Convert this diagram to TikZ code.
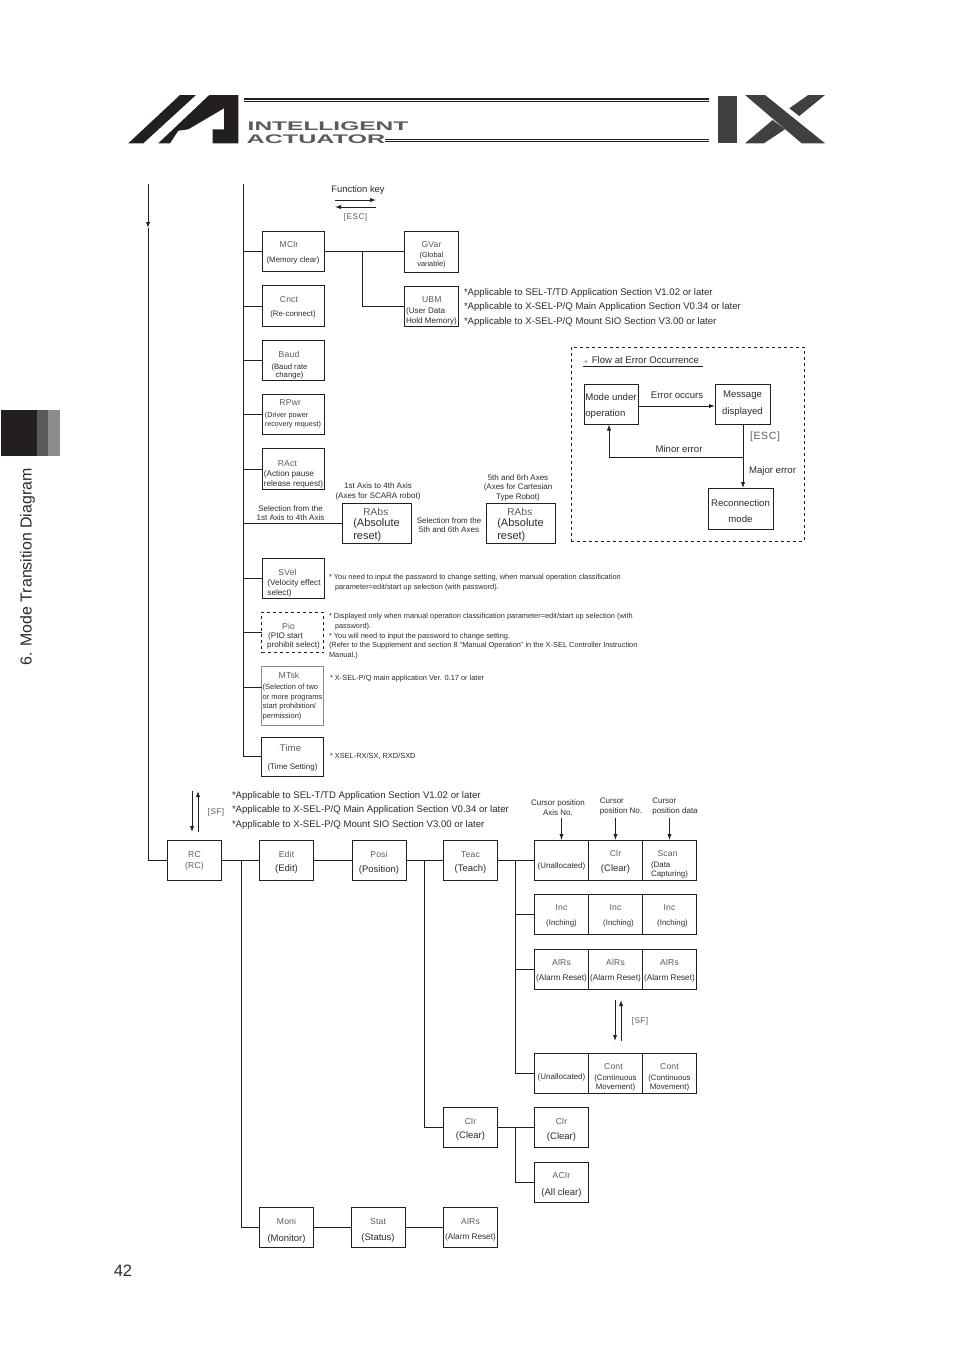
\documentclass[tikz,border=0pt]{standalone}
\usepackage{fontspec}
\setmainfont{Liberation Sans}
\newfontfamily\keyfont[LetterSpace=6]{Liberation Sans}
\newfontfamily\namefont[LetterSpace=2]{Liberation Sans}
\usetikzlibrary{matrix,arrows,arrows.meta}
\definecolor{inkdark}{HTML}{2B2B2B}
\definecolor{inkgray}{HTML}{5A5A5A}
\definecolor{logodark}{HTML}{231F20}
\newcommand{\sz}[1]{\fontsize{#1}{#1}\selectfont}
\newcommand{\nm}[1]{{\color{inkgray}\sz{8.6}\namefont #1}}
\newcommand{\ky}[1]{{\color{inkgray}\sz{8.2}\keyfont #1}}
\newcommand{\dn}[1]{\rule{0pt}{#1pt}}
\newcommand{\up}[1]{\rule[-#1pt]{0pt}{#1pt}}
\tikzset{
	>={Latex[length=6pt,width=4.2pt]},
	x=1pt, y=1pt,
	every node/.style={text=inkdark, inner sep=0pt, outer sep=0pt},
	wire/.style={line width=.85pt, color=logodark},
	box/.style={draw=logodark, line width=.85pt, align=center, font=\sz{7.85}},
	sidebox/.style={box, minimum width=62pt, minimum height=40.5pt},
	stepbox/.style={box, minimum width=54pt, minimum height=40pt},
	wordbox/.style={box, minimum width=54pt, minimum height=40pt, font=\sz{9.5}},
	rabsbox/.style={box, minimum width=69pt, minimum height=40pt, align=left, font=\sz{11}},
	flowbox/.style={box, minimum height=40pt, font=\sz{9.6}},
	note/.style={align=left, anchor=west, font=\sz{9.6}, yshift=-1pt},
	smallnote/.style={align=left, anchor=north west, font=\sz{7.4}, yshift=-1pt},
	caption/.style={align=center, font=\sz{8}, yshift=-1pt},
	flowtext/.style={font=\sz{9.6}},
}
\begin{document}
\begin{tikzpicture}
	\useasboundingbox (0,0) rectangle (954,-1350);
	% page furniture
	\fill[logodark] (1,-410) rectangle (37,-456);
	\fill[inkgray] (37,-410) rectangle (48,-456);
	\fill[black!45] (48,-410) rectangle (60,-456);
	\node[rotate=90, font=\sz{15.9}] (chapter) at (27.5,-567) {6. Mode Transition Diagram};
	\node[font=\sz{16.5}] (pageno) at (123,-1271) {42};
	% logo
	\fill[logodark] (128.3,-143.3) -- (143.3,-143.3) -- (196,-95) -- (180,-95) -- cycle;
	\fill[logodark] (158.3,-143.3) -- (209.3,-95) -- (238.3,-95) -- (238.3,-143.3) -- (212.7,-143.3) -- (212.7,-129.3) -- (224,-129.3) -- (224,-108.3) -- (188.3,-129.3) -- (178.3,-130.7) -- (170,-143.3) -- cycle;
	\fill[logodark] (244,-98) rectangle (709,-100.2);
	\fill[logodark] (244,-101.4) rectangle (709,-102.3);
	\fill[logodark] (385,-139) rectangle (709,-140);
	\fill[logodark] (385,-141.4) rectangle (709,-142.4);
	\node[font=\bfseries\sz{12.5}, text=inkgray, xscale=1.96] (logoone) at (328,-126.3) {INTELLIGENT};
	\node[font=\bfseries\sz{12.5}, text=inkgray, xscale=2.01] (logotwo) at (316,-139) {ACTUATOR};
	\fill[inkdark!90] (718,-96) rectangle (737,-143);
	\fill[inkdark!90] (745,-95) -- (765,-95) -- (825,-143.3) -- (801.7,-143.3) -- cycle;
	\fill[inkdark!90] (825,-95) -- (808.3,-95) -- (789.3,-108.3) -- (799.3,-116) -- cycle;
	\fill[inkdark!90] (745,-143.3) -- (772.7,-120) -- (785,-129.3) -- (764,-143.3) -- cycle;

	% function key legend
	\node[font=\sz{9.4}] (fnkey) at (358,-190) {Function key};
	\coordinate (fnl) at (335,-200);
	\coordinate (fnr) at (376,-200);
	\coordinate (escl) at (335,-207);
	\coordinate (escr) at (376,-207);
	\node (esckey) at (355.5,-217) {\ky{[ESC]}};
	\path[->, wire]
	(fnl) edge (fnr)
	(escr) edge (escl);

	% upper column
	\coordinate (bustop) at (243,-184);
	\node[sidebox] (mclr) at (293,-251.5) {\dn{8}\hspace*{-8pt}\nm{MClr}\\[7pt](Memory clear)};
	\node[sidebox] (cnct) at (293,-306) {\dn{8}\hspace*{-8pt}\nm{Cnct}\\[6pt](Re-connect)};
	\node[sidebox] (baud) at (293,-360.5) {\dn{15}\hspace*{-8pt}\nm{Baud}\\[4pt]\hspace*{-7pt}{\sz{7.7}(Baud rate}\\[.2pt]\hspace*{-7pt}{\sz{7.7}change)}};
	\node[sidebox, align=left] (rpwr) at (293,-414.5) {\hspace*{14.5pt}\nm{RPwr}\\[5.1pt]{\sz{7.2}(Driver power}\\[.6pt]{\sz{7.2}recovery request)\up{3.5}}};
	\node[sidebox, align=left] (ract) at (293,-469) {\dn{16}\hspace*{15pt}\nm{RAct}\\[2.6pt]\hspace*{1pt}{\sz{8.2}(Action pause}\\[1.6pt]\hspace*{1pt}{\sz{8.2}release request)}};
	\node[sidebox, minimum height=40pt, align=left] (svel) at (293,-578) {\dn{16}\hspace*{13pt}\nm{SVel}\\[2.6pt]\hspace*{2pt}{\sz{8.2}(Velocity effect}\\[2pt]\hspace*{2pt}{\sz{8.2}select)}};
	\node[sidebox, dashed, align=left] (pio) at (292.5,-632.5) {\dn{13.5}\hspace*{17pt}\nm{Pio}\\[1.2pt]\hspace*{3pt}{\sz{8.1}(PIO start}\\[1.6pt]\hspace*{2pt}{\sz{8.1}prohibit select)}};
	\node[sidebox, draw=black!45, line width=.6pt, minimum height=59pt, align=left] (mtsk) at (292.5,-695.5) {\dn{8}\hspace*{16pt}\nm{MTsk}\\[3.1pt]{\sz{7.5}(Selection of two}\\[2.1pt]{\sz{7.5}or more programs}\\[1.6pt]{\sz{7.5}start prohibition/}\\[2.1pt]{\sz{7.5}permission)}};
	\node[sidebox, minimum height=39pt] (time) at (292.5,-756.5) {\dn{9}\hspace*{-4pt}\nm{\sz{9.6}Time}\\[10pt]{\sz{8}(Time Setting)}};
	\node[stepbox, minimum height=41pt] (gvar) at (431.5,-251.5) {\dn{12.5}\nm{GVar}\\[2.6pt]{\sz{7.4}(Global}\\[1.1pt]{\sz{7.4}variable)}};
	\node[stepbox, align=left] (ubm) at (431.5,-306) {\dn{15.5}\hspace*{16pt}\nm{UBM}\\[3.1pt]{\sz{8.1}(User Data}\\[2.6pt]{\sz{8.1}Hold Memory)}};
	\node[rabsbox] (rabsa) at (376.5,-523) {\dn{11.2}\hspace*{10pt}{\sz{10}\color{inkgray}\namefont RAbs}\\[.5pt](Absolute\\[2pt]reset)};
	\node[rabsbox] (rabsb) at (520.5,-523) {\dn{11.2}\hspace*{10pt}{\sz{10}\color{inkgray}\namefont RAbs}\\[.5pt](Absolute\\[2pt]reset)};
	\coordinate (mtskstub) at (243,-687);
	\draw[wire] (bustop) |- (time.west);
	\path[wire]
	(mclr.west -| bustop) edge (mclr.west)
	(cnct.west -| bustop) edge (cnct.west)
	(baud.west -| bustop) edge (baud.west)
	(rpwr.west -| bustop) edge (rpwr.west)
	(ract.west -| bustop) edge (ract.west)
	(rabsa.west -| bustop) edge (rabsa.west)
	(svel.west -| bustop) edge (svel.west)
	(pio.west -| bustop) edge (pio.west)
	(mtskstub) edge (mtskstub -| mtsk.west)
	(mclr.east) edge (gvar.west);
	\coordinate (ubmfork) at (362,-251.5);
	\draw[wire] (ubmfork) |- (ubm.west);

	\node[caption] (selfrom) at (290.5,-512.5) {Selection from the\\[1pt]1st Axis to 4th Axis};
	\node[caption] (axesa) at (378,-490) {1st Axis to 4th Axis\\[2pt](Axes for SCARA robot)};
	\node[caption] (selfive) at (449,-524.3) {Selection from the\\[1.5pt]5th and 6th Axes};
	\node[caption] (axesb) at (518,-486.5) {5th and 6rh Axes\\[1.5pt](Axes for Cartesian\\[1.5pt]Type Robot)};
	\node[note] (verone) at (464,-292) {*Applicable to SEL-T/TD Application Section V1.02 or later};
	\node[note] (vertwo) at (464,-306) {*Applicable to X-SEL-P/Q Main Application Section V0.34 or later};
	\node[note] (verthree) at (464,-321) {*Applicable to X-SEL-P/Q Mount SIO Section V3.00 or later};
	\node[smallnote] (svelnote) at (329,-573.5) {* You need to input the password to change setting, when manual operation classification\\[2.2pt]\hspace*{6pt}parameter=edit/start up selection (with password).};
	\node[smallnote] (pionote) at (329,-612.5) {* Displayed only when manual operation classification parameter=edit/start up selection (with\\[2.2pt]\hspace*{6pt}password).\\[2.2pt]* You will need to input the password to change setting.\\[2.2pt](Refer to the Supplement and section 8 “Manual Operation” in the X-SEL Controller Instruction\\[2.2pt]Manual.)};
	\node[smallnote] (mtsknote) at (330,-674) {* X-SEL-P/Q main application Ver. 0.17 or later};
	\node[smallnote] (timenote) at (330,-752) {* XSEL-RX/SX, RXD/SXD};

	% error flow
	\node[box, dashed, minimum width=233pt, minimum height=194pt] (errframe) at (687.5,-444) {};
	\node[anchor=west, flowtext] (errtitle) at (584,-360) {{\sz{6}$\ast$}\hspace{4pt}Flow at Error Occurrence};
	\coordinate (ulstart) at (583,-366);
	\coordinate (ulend) at (703,-366);
	\path[wire] (ulstart) edge (ulend);
	\node[flowbox, minimum width=54pt, align=left] (modeop) at (611,-404.5) {\dn{10}Mode under\\[6.4pt]operation};
	\node[flowbox, minimum width=55pt] (message) at (742.5,-404.5) {Message\\[7.4pt]displayed\up{3.5}};
	\node[flowbox, minimum width=65pt, minimum height=41pt] (reconn) at (740.5,-508.5) {\dn{13}Reconnection\\[6.4pt]mode};
	\node[flowtext] (erroccurs) at (677,-395) {Error occurs};
	\node[flowtext] (minorerr) at (679,-449) {Minor error};
	\node[flowtext] (majorerr) at (772.5,-471) {Major error};
	\node (escerr) at (765,-437) {\ky{\sz{10.5}[ESC]}};
	\coordinate (forkerr) at (743,-457);
	\path[->, wire]
	(modeop.east |- 0,-406) edge (message.west |- 0,-406)
	(message.south -| forkerr) edge (reconn.north -| forkerr);
	\draw[->, wire] (forkerr) -| (609,-424.5);

	% lower chain
	\coordinate (rctop) at (148,-184);
	\coordinate (rcmid) at (148,-228);
	\node[wordbox] (rc) at (194.5,-860) {\dn{8}\nm{RC}\\[1.5pt]{\color{inkgray}\sz{8.6}\namefont (RC)}};
	\node[wordbox] (edit) at (286.5,-860) {\dn{10}\nm{Edit}\\[4.5pt](Edit)};
	\node[wordbox] (posi) at (379,-860) {\dn{11}\nm{Posi}\\[5.5pt](Position)};
	\node[wordbox] (teac) at (470.5,-860) {\dn{10}\nm{Teac}\\[4.5pt](Teach)};
	\draw[->, wire] (rctop) -- (rcmid);
	\draw[wire] (rcmid) |- (rc.west);
	\path[wire]
	(rc.east) edge (edit.west)
	(edit.east) edge (posi.west)
	(posi.east) edge (teac.west);
	\coordinate (sfdown) at (192,-791);
	\coordinate (sfdownend) at (192,-832);
	\coordinate (sfup) at (198,-832);
	\coordinate (sfupend) at (198,-791);
	\path[->, wire]
	(sfdown) edge (sfdownend)
	(sfup) edge (sfupend);
	\node (sfa) at (216,-812) {\ky{[SF]}};
	\node[note] (vera) at (232,-795) {*Applicable to SEL-T/TD Application Section V1.02 or later};
	\node[note] (verb) at (232,-809.5) {*Applicable to X-SEL-P/Q Main Application Section V0.34 or later};
	\node[note] (verc) at (232,-824) {*Applicable to X-SEL-P/Q Mount SIO Section V3.00 or later};

	\matrix (cells) [row sep=13.15pt, column sep=-.85pt, inner sep=0pt] at (615.5,-966.5)
	{
	\node[stepbox] (cell-1-1) {\dn{18}{\sz{8}(Unallocated)}}; &
	\node[stepbox] (cell-1-2) {\dn{10}\nm{Clr}\\[7pt]{\sz{9.5}(Clear)}}; &
	\node[stepbox, align=left] (cell-1-3) {\dn{14}\hspace*{6.5pt}\nm{Scan}\\[3.1pt]{\sz{7.9}(Data}\\[1.1pt]{\sz{7.9}Capturing)}}; \\
	\node[stepbox] (cell-2-1) {\dn{10}\nm{Inc}\\[7pt](Inching)}; &
	\node[stepbox] (cell-2-2) {\dn{10}\nm{Inc}\\[7pt]\hspace*{6pt}(Inching)}; &
	\node[stepbox] (cell-2-3) {\dn{10}\nm{Inc}\\[7pt]\hspace*{6pt}(Inching)}; \\[1pt]
	\node[stepbox] (cell-3-1) {\dn{10}\nm{AlRs}\\[7pt]{\sz{8.2}(Alarm Reset)}}; &
	\node[stepbox] (cell-3-2) {\dn{10}\nm{AlRs}\\[7pt]{\sz{8.2}(Alarm Reset)}}; &
	\node[stepbox] (cell-3-3) {\dn{10}\nm{AlRs}\\[7pt]{\sz{8.2}(Alarm Reset)}}; \\[50pt]
	\node[stepbox] (cell-4-1) {\dn{14}{\sz{8}(Unallocated)}}; &
	\node[stepbox] (cell-4-2) {\dn{14}\hspace*{-4pt}\nm{Cont}\\[3.1pt](Continuous\\[1.1pt]Movement)}; &
	\node[stepbox] (cell-4-3) {\dn{14}\nm{Cont}\\[3.1pt](Continuous\\[1.1pt]Movement)}; \\
	};
	\node[caption] (cursa) at (558,-807) {Cursor position\\[2pt]Axis No.};
	\node[caption, align=left] (cursb) at (621,-806) {Cursor\\[2pt]position No.};
	\node[caption, align=left] (cursc) at (675,-806) {Cursor\\[2pt]position data};
	\path[->, wire]
	(cell-1-1.north |- 0,-818) edge (cell-1-1.north)
	(cell-1-2.north |- 0,-818) edge (cell-1-2.north)
	(cell-1-3.north |- 0,-818) edge (cell-1-3.north);
	\coordinate (sfdownb) at (615,-1000);
	\coordinate (sfdownbend) at (615,-1041);
	\coordinate (sfupb) at (621,-1041);
	\coordinate (sfupbend) at (621,-1000);
	\path[->, wire]
	(sfdownb) edge (sfdownbend)
	(sfupb) edge (sfupbend);
	\node (sfb) at (640,-1021) {\ky{[SF]}};

	\coordinate (cellfork) at (515,-860);
	\path[wire] (teac.east) edge (cell-1-1.west);
	\draw[wire] (cellfork) |- (cell-4-1.west);
	\path[wire]
	(cellfork |- cell-2-1.west) edge (cell-2-1.west)
	(cellfork |- cell-3-1.west) edge (cell-3-1.west);

	\node[wordbox] (clrmain) at (470.5,-1127.5) {\dn{10}\nm{Clr}\\[4.5pt](Clear)};
	\node[wordbox] (clrsub) at (561.5,-1127.5) {\dn{10}\nm{Clr}\\[5.5pt](Clear)};
	\node[wordbox] (aclr) at (561.5,-1182) {\dn{11}\nm{ACIr}\\[7.5pt](All clear)};
	\node[wordbox] (moni) at (286.5,-1227.5) {\dn{12}\nm{Moni}\\[7.5pt](Monitor)};
	\node[wordbox] (stat) at (378,-1227.5) {\dn{11}\nm{Stat}\\[6.5pt](Status)};
	\node[stepbox] (alrs) at (470.5,-1227.5) {\dn{10.5}\nm{AlRs}\\[7.6pt]{\sz{8.2}(Alarm Reset)}};
	\coordinate (clrfork) at (424,-860);
	\coordinate (clrsubfork) at (515,-1127.5);
	\coordinate (monifork) at (241,-860);
	\draw[wire] (clrfork) |- (clrmain.west);
	\draw[wire] (clrsubfork) |- (aclr.west);
	\draw[wire] (monifork) |- (moni.west);
	\path[wire]
	(clrmain.east) edge (clrsub.west)
	(moni.east) edge (stat.west)
	(stat.east) edge (alrs.west);
\end{tikzpicture}
\end{document}
